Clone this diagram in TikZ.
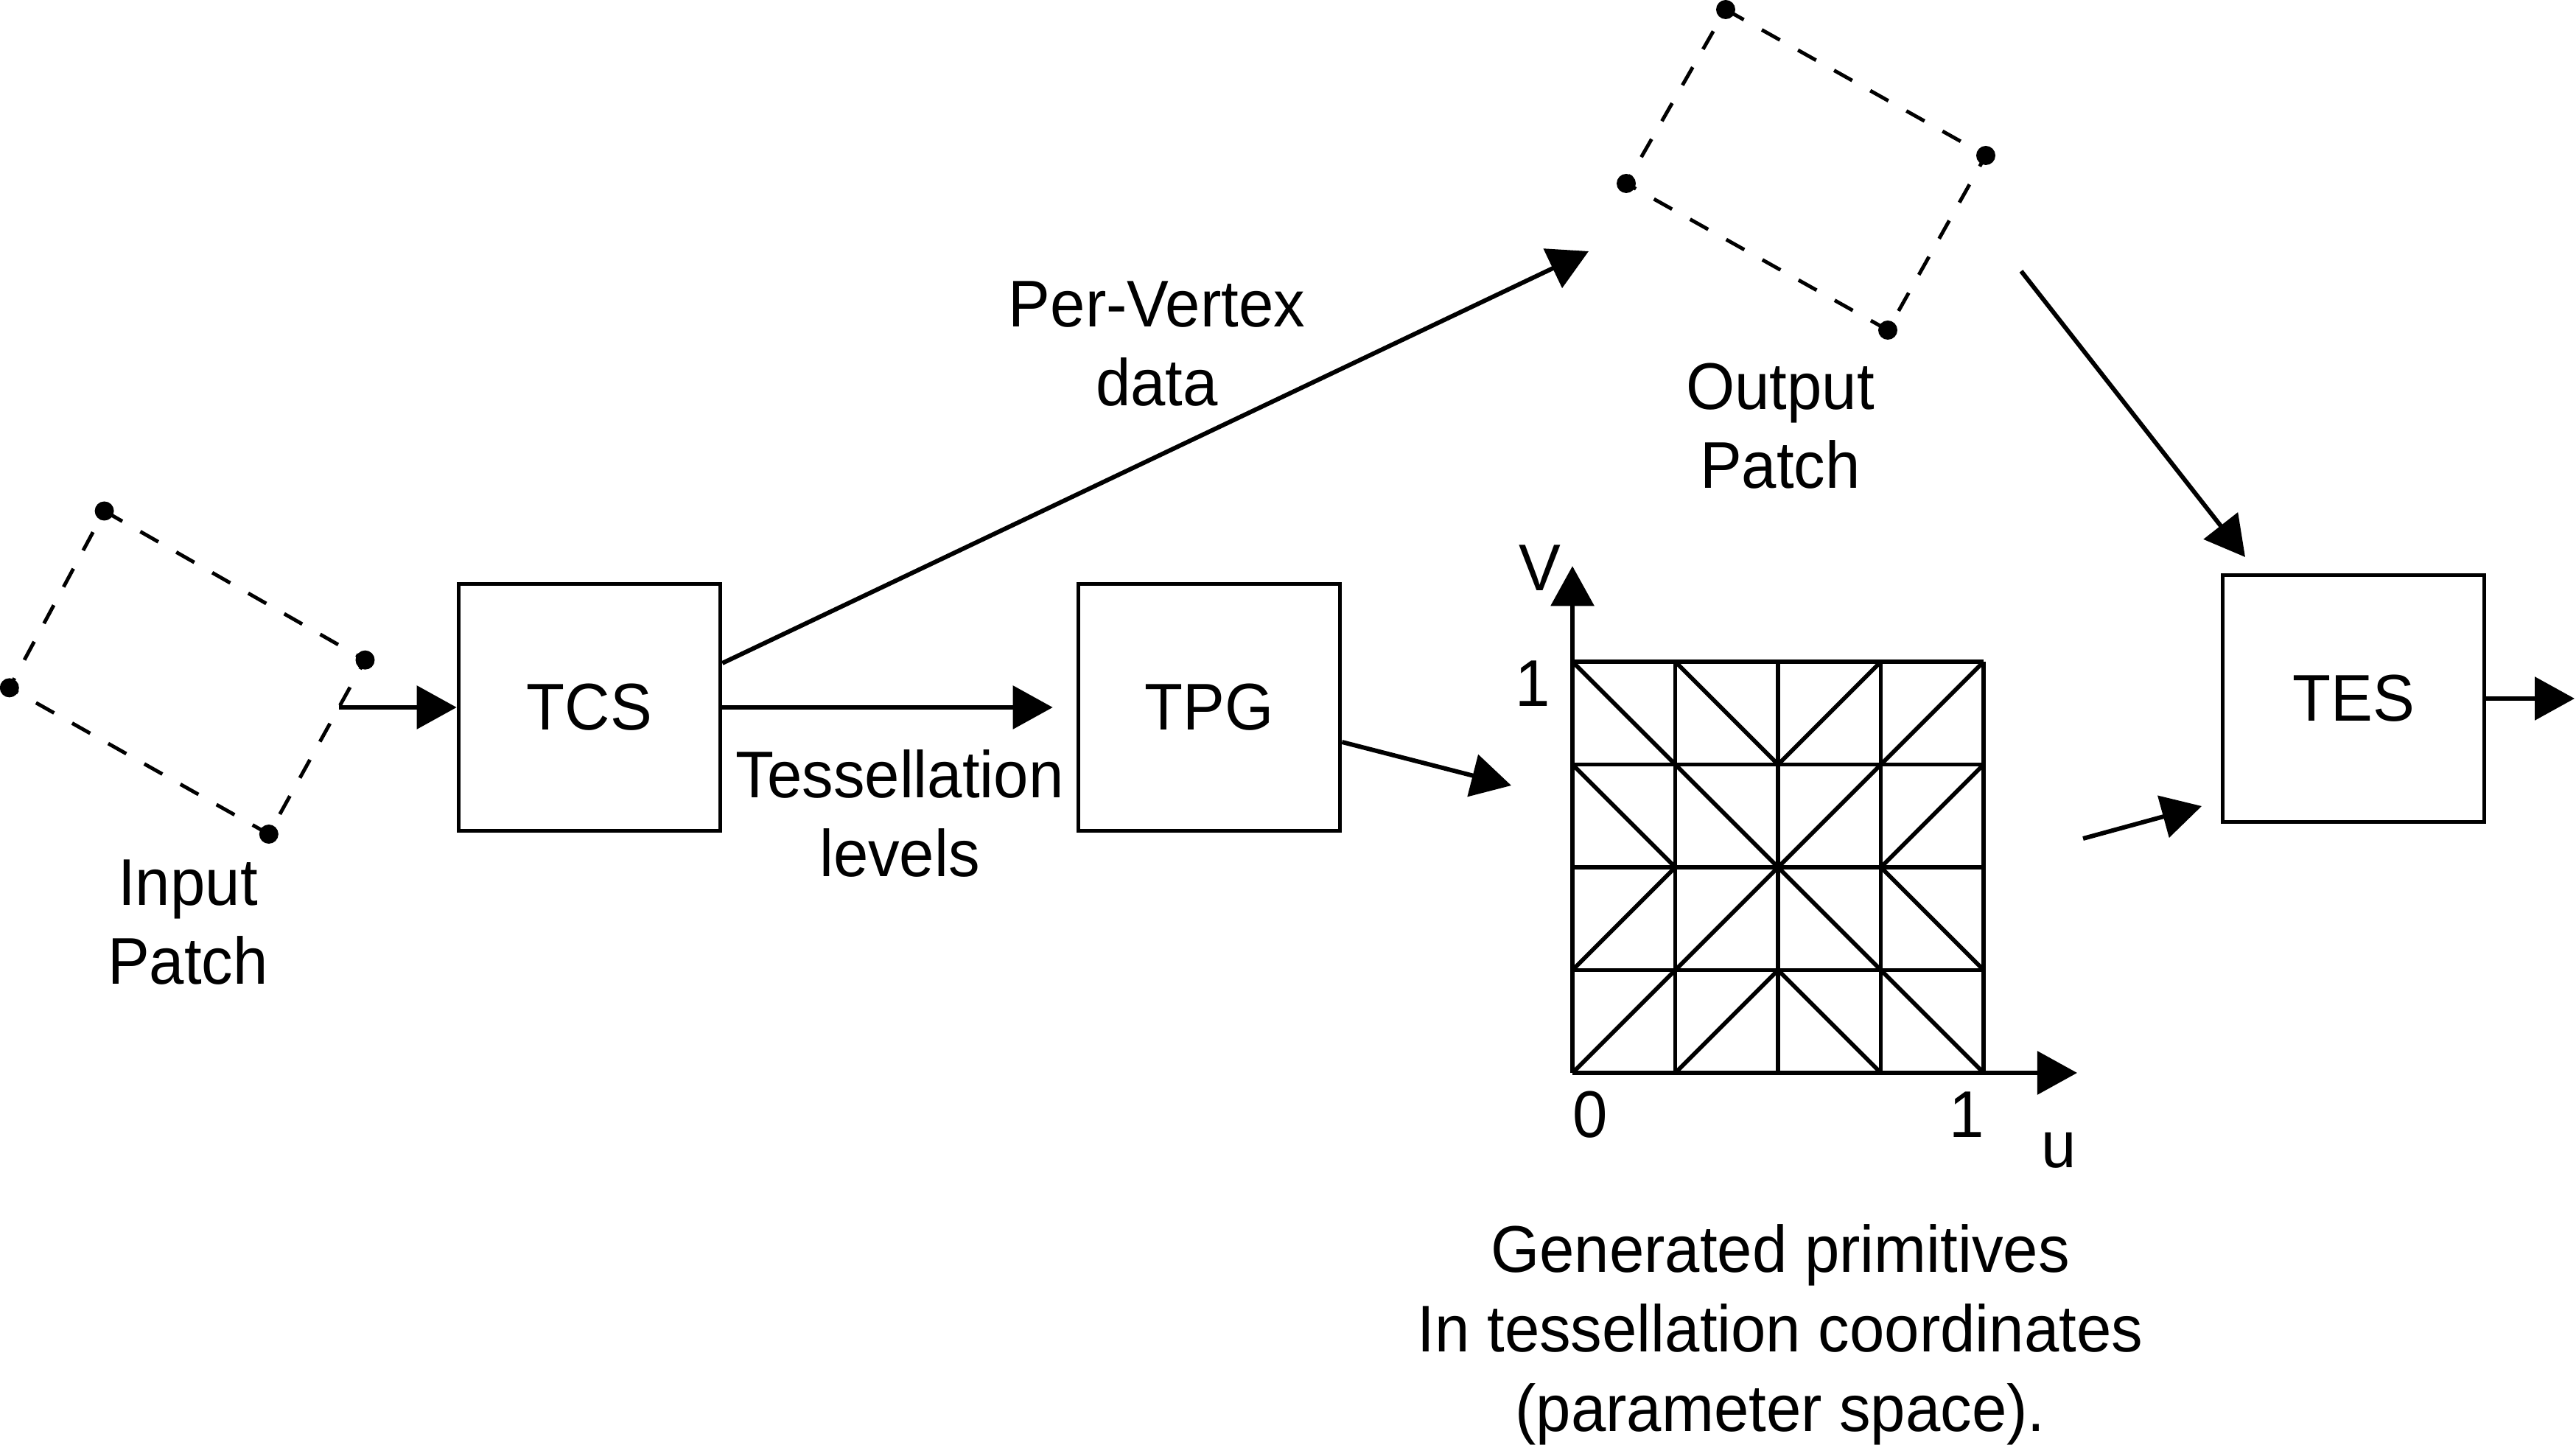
\documentclass[tikz,border=0pt]{standalone}
\usepackage{fontspec}
\setmainfont{Liberation Sans}[FakeStretch=0.95]
\usetikzlibrary{arrows.meta}

\tikzset{
  stage/.style={draw, line width=1.6pt, minimum width=3.55cm, minimum height=3.35cm, inner sep=0pt},
  arr/.style={line width=1.7pt, -{Triangle[length=5.4mm,width=5.8mm]}},
  patch/.style={line width=1.4pt, dash pattern=on 8pt off 8pt},
  lbl/.style={align=center, anchor=base, inner sep=0pt},
  gridline/.style={line width=1.6pt},
}

\begin{document}
\begin{tikzpicture}[font=\fontsize{25.5}{30.6}\selectfont]
  \useasboundingbox (0,0) rectangle (34.96,19.6);

  % input and output patches
  \coordinate (ipT) at (1.416,12.665);
  \coordinate (ipR) at (4.955,10.643);
  \coordinate (ipB) at (3.648,8.28);
  \coordinate (ipL) at (0.128,10.266);
  \coordinate (opT) at (23.42,19.47);
  \coordinate (opR) at (26.95,17.49);
  \coordinate (opB) at (25.62,15.12);
  \coordinate (opL) at (22.07,17.11);
  \draw[patch] (ipT) -- (ipR) -- (ipB) -- (ipL) -- cycle;
  \draw[patch] (opT) -- (opR) -- (opB) -- (opL) -- cycle;
  \foreach \p in {ipT,ipR,ipB,ipL,opT,opR,opB,opL} {
    \fill (\p) circle (0.13);
  }

  % stages
  \node[stage] (tcs) at (8.0,10.0) {TCS};
  \node[stage] (tpg) at (16.41,10.0) {TPG};
  \node[stage] (tes) at (31.94,10.12) {TES};

  % free ends of the connectors
  \coordinate (ipA) at (4.60,10.0);
  \coordinate (opIn) at (21.56,16.19);
  \coordinate (opOut) at (27.43,15.92);
  \coordinate (tesIn) at (30.47,12.04);
  \coordinate (gridIn) at (20.51,8.94);
  \coordinate (gridOut) at (28.27,8.22);
  \coordinate (tesIn2) at (29.88,8.66);
  \coordinate (tesOut) at (34.94,10.12);

  \draw[arr] (ipA) -- (tcs);
  \draw[arr, shorten >=0.32cm] (tcs) -- (tpg);
  \draw[arr] ([yshift=0.6cm]tcs.east) -- (opIn);
  \draw[arr] (opOut) -- (tesIn);
  \draw[arr] ([yshift=-0.47cm]tpg.east) -- (gridIn);
  \draw[arr] (gridOut) -- (tesIn2);
  \draw[arr] (tes.east) -- (tesOut);

  % labels (base = last line)
  \node[lbl] (inlbl) at (2.55,6.24) {Input\\Patch};
  \node[lbl] (tesslbl) at (12.21,7.70) {Tessellation\\levels};
  \node[lbl] (pvlbl) at (15.70,14.09) {Per-Vertex\\data};
  \node[lbl] (outlbl) at (24.16,12.97) {Output\\Patch};
  \node[lbl] (genlbl) at (24.16,0.18) {Generated primitives\\In tessellation coordinates\\(parameter space).};

  % parameter space grid
  \begin{scope}[shift={(21.34,5.04)}, x=1.395cm, y=1.395cm]
    \foreach \k in {0,...,4} {
      \draw[gridline] (\k,0) -- (\k,4);
      \draw[gridline] (0,\k) -- (4,\k);
    }
    \foreach \i in {0,...,3} {
      \foreach \j in {0,...,3} {
        \pgfmathtruncatemacro\same{(\i<2)==(\j<2)}
        \ifnum\same=1
          \draw[gridline] (\i,\j) -- (\i+1,\j+1);
        \else
          \draw[gridline] (\i,\j+1) -- (\i+1,\j);
        \fi
      }
    }
    \coordinate (orig) at (0,0);
    \coordinate (vtip) at (0,4.93);
    \coordinate (utip) at (4.91,0);
    \draw[arr] (orig) -- (vtip);
    \draw[arr] (orig) -- (utip);
  \end{scope}
  \node[lbl] (vlbl) at (20.9,11.58) {V};
  \node[lbl] (vone) at (20.8,10.01) {1};
  \node[lbl] (uzero) at (21.58,4.16) {0};
  \node[lbl] (uone) at (26.69,4.16) {1};
  \node[lbl] (ulbl) at (27.94,3.75) {u};
\end{tikzpicture}
\end{document}
